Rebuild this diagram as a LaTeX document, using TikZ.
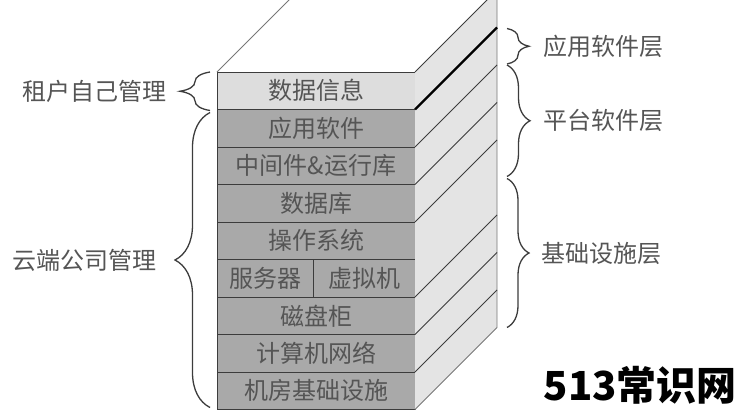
\documentclass[tikz,border=0pt]{standalone}
\usepackage{fontspec}
\setmainfont{Noto Sans CJK SC}
\usetikzlibrary{positioning, calc, decorations.pathreplacing}
\definecolor{layerfill}{HTML}{A9A9A9}
\definecolor{toplayer}{HTML}{DDDDDD}
\definecolor{sidefill}{HTML}{E4E4E4}
\definecolor{labeltext}{HTML}{555555}
\definecolor{edgeline}{HTML}{3C3C3C}
\tikzset{
    layer/.style={draw=edgeline, fill=layerfill, line width=0.9pt, minimum width=198pt,
        minimum height=37.5pt, inner sep=0pt, outer sep=0pt, text=labeltext,
        font=\fontsize{24}{26}\selectfont},
    tierbrace/.style={decorate, decoration={brace, amplitude=#1}, draw=edgeline, line width=1.3pt},
    tierlabel/.style={text=labeltext, font=\fontsize{24}{26}\selectfont, inner sep=0pt},
}

\begin{document}
\begin{tikzpicture}[x=1pt, y=1pt]
    \clip (0,0) rectangle (744,-418);
    % front face
    \node [layer, fill=toplayer] (data) at (316,-90.75) {数据信息};
    \node [layer, below=0pt of data] (app) {应用软件};
    \node [layer, below=0pt of app] (mid) {中间件\&运行库};
    \node [layer, below=0pt of mid] (db) {数据库};
    \node [layer, below=0pt of db] (os) {操作系统};
    \node [layer, minimum width=96pt, below right=0pt and 0pt of os.south west] (srv) {服务器};
    \node [layer, minimum width=102pt, right=0pt of srv] (vm) {虚拟机};
    \node [layer, below right=0pt and 0pt of srv.south west] (disk) {磁盘柜};
    \node [layer, below=0pt of disk] (net) {计算机网络};
    \node [layer, below=0pt of net] (room) {机房基础设施};

    % side and top faces
    \coordinate (backtop) at ($(data.north east)+(82,82)$);
    \coordinate (backbottom) at ($(room.south east)+(82,82)$);
    \fill [sidefill] (data.north east) -- (backtop) -- (backbottom) -- (room.south east) -- cycle;
    \draw [edgeline!70, line width=0.9pt] (data.north west) -- ++(82,82) -- (backtop) -- (backbottom) -- (room.south east);
    \foreach \n in {data, mid, db, os, disk, net, room}
        \draw [edgeline, line width=0.9pt] (\n.north east) -- ++(82,82);
    \draw [black, line width=2.2pt] (app.north east) -- ++(82,82);

    % right braces
    \coordinate (appA) at ($(app.north east)+(92,81)$);
    \coordinate (appB) at ($(mid.north east)+(92,83)$);
    \coordinate (platB) at ($(srv.north east -| vm.north east)+(92,83)$);
    \coordinate (baseB) at ($(room.south east)+(92,82)$);
    \draw [tierbrace=22pt] (appA) -- (appB)
        node [tierlabel, midway, right=36pt] (applabel) {应用软件层};
    \draw [tierbrace=23pt] ($(appB)+(0,-1)$) -- (platB)
        node [tierlabel, midway, right=36pt] (platlabel) {平台软件层};
    \draw [tierbrace=22pt] ($(platB)+(0,-2)$) -- (baseB)
        node [tierlabel, midway, right=34pt] (baselabel) {基础设施层};

    % left braces
    \coordinate (userA) at ($(data.south west)+(-7,-1)$);
    \coordinate (userB) at ($(data.north west)+(-7,0)$);
    \coordinate (cloudA) at ($(room.south west)+(-7,2)$);
    \coordinate (cloudB) at ($(app.north west)+(-7,-3)$);
    \draw [tierbrace=30pt] (userA) -- (userB)
        node [tierlabel, midway, left=43pt] (userlabel) {租户自己管理};
    \draw [tierbrace=35pt] (cloudA) -- (cloudB)
        node [tierlabel, midway, left=53pt] (cloudlabel) {云端公司管理};

    \node [font=\bfseries\fontsize{40}{44}\selectfont, anchor=east, inner sep=0pt] (sitemark) at (737,-385) {513常识网};
\end{tikzpicture}
\end{document}
